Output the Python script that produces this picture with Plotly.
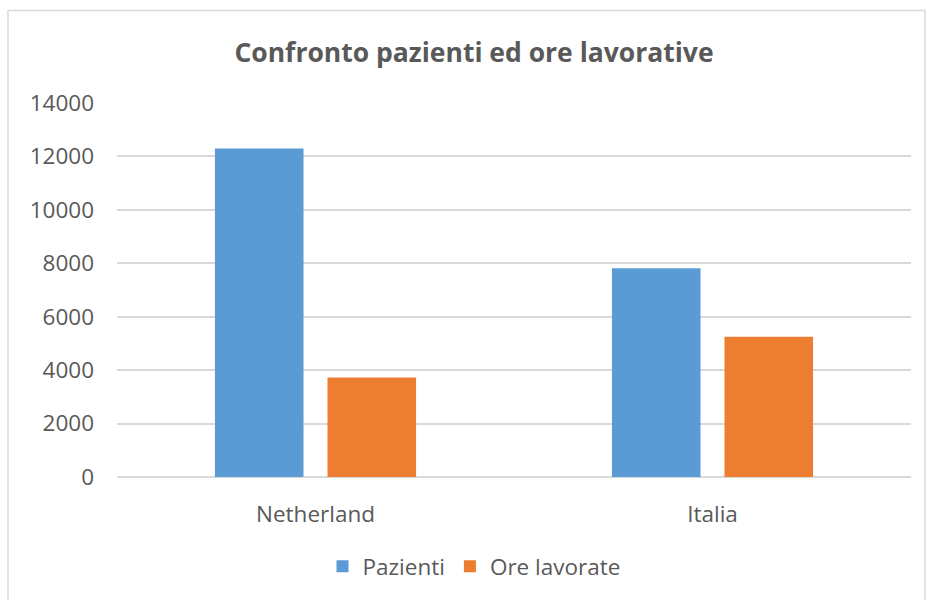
import plotly.graph_objects as go

categories = ["Netherland", "Italia"]
pazienti = [12300, 7810]
ore_lavorate = [3720, 5250]
series_names = ["Pazienti", "Ore lavorate"]
tick_vals = [0, 2000, 4000, 6000, 8000, 10000, 12000, 14000]

W, H = 927, 600
ml, mr, mt, mb = 117, 16, 103, 121
pw, ph = W - ml - mr, H - mt - mb

def px_x(x):
    return (x - ml) / pw

def px_y(y):
    return (H - mb - y) / ph

FONT = "Open Sans, sans-serif"
GREY = "#595959"

fig = go.Figure()
fig.add_trace(go.Bar(name=series_names[0], x=categories, y=pazienti,
                     marker=dict(color="#5B9BD5", line=dict(width=0))))
fig.add_trace(go.Bar(name=series_names[1], x=categories, y=ore_lavorate,
                     marker=dict(color="#ED7D31", line=dict(width=0))))

fig.update_layout(
    width=W, height=H,
    margin=dict(l=ml, r=mr, t=mt, b=mb),
    paper_bgcolor="white", plot_bgcolor="white",
    barmode="group", bargap=0.433, bargroupgap=0.213,
    font=dict(family=FONT, color=GREY),
    title=dict(text="<b>Confronto pazienti ed ore lavorative</b>",
               x=px_x(474), xanchor="center", y=1 - 53 / H, yanchor="middle",
               xref="paper",
               font=dict(family=FONT, size=26.5, color=GREY)),
    legend=dict(orientation="h", x=px_x(474), xanchor="center",
                y=px_y(569), yanchor="middle",
                font=dict(size=22.5, color=GREY),
                itemwidth=30, traceorder="normal"),
    xaxis=dict(showgrid=False, showline=False, ticks="",
               ticklabelstandoff=21,
               tickfont=dict(size=22.5, color=GREY)),
    yaxis=dict(range=[0, 14000], tickvals=tick_vals, tickformat="d",
               showgrid=True,
               gridcolor="#D9D9D9", gridwidth=1.5,
               zeroline=True, zerolinecolor="#D9D9D9", zerolinewidth=1.5,
               showline=False, ticks="", ticklabelstandoff=22,
               tickfont=dict(size=22.5, color=GREY)),
    shapes=[dict(type="rect", xref="paper", yref="paper",
                 x0=px_x(8), x1=px_x(925), y0=px_y(608), y1=px_y(10),
                 line=dict(color="#D9D9D9", width=1.5), layer="below")],
)

fig.write_html("out.html")
